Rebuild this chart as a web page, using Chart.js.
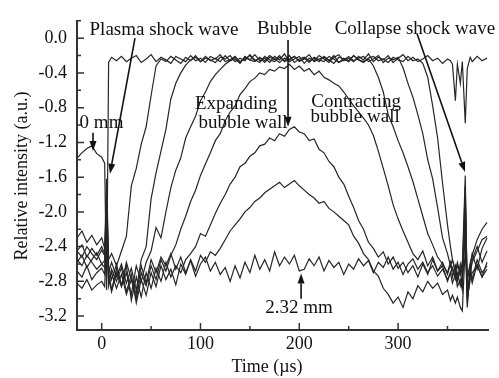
<!DOCTYPE html>
<html>
<head>
<meta charset="utf-8">
<script src="https://cdn.jsdelivr.net/npm/chart.js@4.4.1/dist/chart.umd.min.js"></script>
<style>
  html, body { margin: 0; padding: 0; background: #fff; }
  #wrap { width: 499px; height: 378px; }
</style>
</head>
<body>
<div id="wrap"><canvas id="chart" width="499" height="378"></canvas></div>
<script>
// time axis shared by every trace (µs)
const timeUs = [-25, -20, -15, -10, -5, 0, 3, 5, 7, 10,
  15, 20, 25, 30, 35, 40, 45, 50, 55, 60,
  65, 70, 75, 80, 85, 90, 95, 100, 105, 110,
  115, 120, 125, 130, 135, 140, 145, 150, 155, 160,
  165, 170, 175, 180, 185, 190, 195, 200, 205, 210,
  215, 220, 225, 230, 235, 240, 245, 250, 255, 260,
  265, 270, 275, 280, 285, 290, 295, 300, 305, 310,
  315, 320, 325, 330, 335, 340, 345, 350, 353, 355,
  358, 360, 363, 365, 368, 370, 373, 375, 380, 385,
  390];

const trace0mm = [-1.38, -1.32, -1.27, -1.24, -1.33, -1.37, -1.44, -2.90, -0.28, -0.22,
  -0.26, -0.21, -0.27, -0.23, -0.20, -0.28, -0.24, -0.19, -0.27, -0.22,
  -0.25, -0.29, -0.21, -0.24, -0.27, -0.20, -0.26, -0.23, -0.28, -0.21,
  -0.24, -0.19, -0.27, -0.25, -0.21, -0.28, -0.22, -0.25, -0.19, -0.26,
  -0.23, -0.28, -0.21, -0.25, -0.18, -0.27, -0.24, -0.21, -0.29, -0.23,
  -0.26, -0.20, -0.24, -0.28, -0.22, -0.19, -0.26, -0.23, -0.27, -0.21,
  -0.25, -0.18, -0.27, -0.22, -0.25, -0.20, -0.28, -0.23, -0.19, -0.26,
  -0.22, -0.27, -0.24, -0.20, -0.26, -0.23, -0.29, -0.24, -0.26, -0.30,
  -0.72, -0.30, -0.52, -0.27, -0.98, -0.35, -0.22, -0.27, -0.21, -0.26,
  -0.23];

const traceA = [-2.30, -2.22, -2.35, -2.27, -2.38, -2.30, -2.42, -1.62, -2.55, -2.48,
  -2.62, -2.45, -2.28, -1.70, -1.50, -1.22, -1.02, -0.66, -0.32, -0.24,
  -0.27, -0.21, -0.25, -0.29, -0.22, -0.26, -0.20, -0.27, -0.23, -0.25,
  -0.28, -0.22, -0.24, -0.20, -0.27, -0.23, -0.26, -0.19, -0.25, -0.28,
  -0.21, -0.25, -0.27, -0.22, -0.26, -0.20, -0.28, -0.24, -0.22, -0.26,
  -0.23, -0.27, -0.21, -0.25, -0.29, -0.22, -0.24, -0.27, -0.20, -0.25,
  -0.28, -0.23, -0.21, -0.26, -0.24, -0.28, -0.22, -0.25, -0.27, -0.21,
  -0.26, -0.24, -0.29, -0.45, -0.78, -1.15, -1.67, -2.15, -2.40, -2.55,
  -2.68, -2.58, -2.72, -2.62, -1.58, -3.10, -2.60, -2.48, -2.66, -2.42,
  -2.30];

const traceB = [-2.45, -2.52, -2.40, -2.48, -2.55, -2.44, -2.50, -1.75, -2.70, -2.58,
  -2.75, -2.60, -2.82, -2.65, -2.90, -2.55, -2.40, -1.85, -1.55, -1.30,
  -1.05, -0.70, -0.52, -0.40, -0.31, -0.25, -0.22, -0.27, -0.21, -0.26,
  -0.23, -0.27, -0.20, -0.26, -0.24, -0.29, -0.21, -0.25, -0.27, -0.22,
  -0.26, -0.20, -0.24, -0.28, -0.23, -0.25, -0.21, -0.27, -0.24, -0.19,
  -0.27, -0.24, -0.22, -0.26, -0.20, -0.28, -0.25, -0.21, -0.26, -0.23,
  -0.21, -0.27, -0.24, -0.20, -0.28, -0.23, -0.25, -0.22, -0.34, -0.52,
  -0.68, -0.88, -1.10, -1.40, -1.62, -1.95, -2.30, -2.48, -2.62, -2.55,
  -2.70, -2.78, -2.60, -2.74, -1.70, -2.95, -2.72, -2.55, -2.40, -2.58,
  -2.45];

const traceC = [-2.58, -2.50, -2.64, -2.55, -2.47, -2.60, -2.56, -1.90, -2.62, -2.78,
  -2.60, -2.85, -2.70, -2.95, -2.62, -2.80, -2.58, -2.45, -2.18, -2.30,
  -2.00, -1.72, -1.52, -1.38, -1.15, -1.02, -0.90, -0.72, -0.62, -0.50,
  -0.42, -0.36, -0.30, -0.26, -0.22, -0.27, -0.24, -0.20, -0.26, -0.23,
  -0.28, -0.22, -0.25, -0.20, -0.27, -0.24, -0.21, -0.26, -0.23, -0.28,
  -0.22, -0.25, -0.27, -0.21, -0.24, -0.28, -0.23, -0.26, -0.20, -0.25,
  -0.27, -0.24, -0.32, -0.45, -0.62, -0.88, -1.02, -1.18, -1.32, -1.48,
  -1.65, -1.85, -2.05, -2.25, -2.38, -2.52, -2.60, -2.70, -2.58, -2.75,
  -2.62, -2.80, -2.68, -2.85, -1.82, -2.80, -2.62, -2.78, -2.55, -2.70,
  -2.62];

const traceD = [-2.68, -2.75, -2.62, -2.78, -2.70, -2.65, -2.72, -2.05, -2.80, -2.70,
  -2.88, -2.72, -2.95, -2.78, -3.00, -2.70, -2.85, -2.62, -2.78, -2.55,
  -2.68, -2.50, -2.38, -2.20, -2.05, -1.88, -1.75, -1.58, -1.45, -1.32,
  -1.18, -1.10, -0.95, -0.85, -0.78, -0.65, -0.58, -0.50, -0.46, -0.40,
  -0.42, -0.36, -0.38, -0.33, -0.35, -0.30, -0.36, -0.32, -0.38, -0.35,
  -0.42, -0.38, -0.45, -0.48, -0.52, -0.55, -0.62, -0.70, -0.78, -0.85,
  -0.92, -1.00, -1.12, -1.30, -1.50, -1.70, -1.92, -2.08, -2.22, -2.35,
  -2.48, -2.55, -2.45, -2.62, -2.52, -2.68, -2.58, -2.72, -2.60, -2.66,
  -2.78, -2.70, -2.85, -2.75, -2.20, -2.92, -2.70, -2.82, -2.60, -2.75,
  -2.58];

const traceE = [-2.82, -2.88, -2.78, -2.90, -2.84, -2.80, -2.86, -2.30, -2.75, -2.92,
  -2.70, -2.86, -2.62, -3.02, -2.75, -2.98, -2.70, -2.88, -2.65, -2.80,
  -2.58, -2.75, -2.62, -2.70, -2.55, -2.48, -2.40, -2.25, -2.28, -2.15,
  -2.02, -1.90, -1.80, -1.68, -1.60, -1.48, -1.44, -1.36, -1.32, -1.24,
  -1.22, -1.15, -1.18, -1.10, -1.13, -1.05, -1.02, -1.08, -1.10, -1.18,
  -1.16, -1.28, -1.32, -1.42, -1.48, -1.60, -1.68, -1.82, -1.95, -2.10,
  -2.20, -2.35, -2.42, -2.52, -2.46, -2.60, -2.52, -2.65, -2.58, -2.70,
  -2.62, -2.75, -2.60, -2.72, -2.55, -2.68, -2.62, -2.80, -2.70, -2.64,
  -2.74, -2.62, -2.70, -2.58, -2.35, -2.75, -2.60, -2.50, -2.32, -2.20,
  -2.12];

const traceF = [-2.55, -2.62, -2.50, -2.58, -2.66, -2.60, -2.64, -2.20, -2.85, -2.66,
  -2.80, -2.64, -2.92, -2.72, -3.05, -2.78, -2.96, -2.70, -2.86, -2.62,
  -2.78, -2.66, -2.84, -2.60, -2.72, -2.55, -2.68, -2.50, -2.58, -2.46,
  -2.50, -2.42, -2.32, -2.22, -2.15, -2.08, -2.00, -1.95, -1.88, -1.84,
  -1.78, -1.74, -1.70, -1.66, -1.72, -1.68, -1.64, -1.70, -1.75, -1.80,
  -1.84, -1.90, -1.88, -1.96, -2.00, -2.05, -2.10, -2.15, -2.28, -2.36,
  -2.48, -2.55, -2.68, -2.74, -2.88, -2.95, -3.05, -2.98, -3.10, -2.92,
  -3.00, -2.85, -2.92, -2.80, -2.88, -2.82, -2.95, -2.90, -3.02, -2.96,
  -3.05, -2.98, -3.10, -3.14, -2.40, -3.00, -2.78, -2.70, -2.62, -2.75,
  -2.66];

const trace232mm = [-2.45, -2.38, -2.52, -2.42, -2.50, -2.40, -2.48, -2.15, -2.68, -2.90,
  -2.65, -2.85, -2.58, -2.78, -2.95, -2.62, -2.82, -2.55, -2.70, -2.52,
  -2.62, -2.48, -2.66, -2.52, -2.70, -2.56, -2.74, -2.60, -2.52, -2.68,
  -2.58, -2.72, -2.64, -2.80, -2.62, -2.76, -2.58, -2.70, -2.50, -2.66,
  -2.55, -2.68, -2.46, -2.62, -2.52, -2.60, -2.50, -2.68, -2.66, -2.54,
  -2.62, -2.52, -2.68, -2.56, -2.64, -2.58, -2.72, -2.60, -2.66, -2.54,
  -2.62, -2.56, -2.70, -2.58, -2.64, -2.52, -2.66, -2.58, -2.72, -2.60,
  -2.54, -2.66, -2.58, -2.70, -2.62, -2.74, -2.66, -2.78, -2.70, -2.82,
  -2.72, -2.86, -2.78, -2.90, -1.95, -3.05, -2.70, -2.58, -2.45, -2.32,
  -2.28];

const yTicks = [-3.2, -2.8, -2.4, -2.0, -1.6, -1.2, -0.8, -0.4, 0.0];
const yMinorTicks = [-3.0, -2.6, -2.2, -1.8, -1.4, -1.0, -0.6, -0.2, 0.2];
const xTicks = [0, 100, 200, 300];
const xMinorTicks = [50, 150, 250, 350];

// labels placed in data coordinates (baseline)
const notes = [
  { text: "Plasma shock wave", x: 63, y: 0.04 },
  { text: "Bubble", x: 185, y: 0.05 },
  { text: "Collapse shock wave", x: 317, y: 0.05 },
  { text: "0 mm", x: -0.2, y: -1.03 },
  { text: "Expanding", x: 136, y: -0.82 },
  { text: "bubble wall", x: 143, y: -1.04 },
  { text: "Contracting", x: 257.6, y: -0.79 },
  { text: "bubble wall", x: 256.5, y: -0.97 },
  { text: "2.32 mm", x: 199.8, y: -3.17 }
];
const arrows = [
  { from: [33.7, 0.0], to: [8.4, -1.56] },
  { from: [188.6, -0.02], to: [188.6, -1.02] },
  { from: [319.2, 0.05], to: [367.8, -1.54] },
  { from: [-8.8, -1.09], to: [-8.8, -1.30] },
  { from: [201.8, -3.0], to: [201.8, -2.71] }
];

const INK = "#111";
const FONT = "Liberation Serif, Times New Roman, serif";

function toPoints(values) {
  return timeUs.map((t, i) => ({ x: t, y: values[i] }));
}

const traces = [trace232mm, traceF, traceE, traceD, traceC, traceB, traceA, trace0mm];

const inwardTicks = {
  id: "inwardTicks",
  afterDraw(chart) {
    const ctx = chart.ctx;
    const xs = chart.scales.x;
    const ys = chart.scales.y;
    const left = chart.chartArea.left;
    const bottom = chart.chartArea.bottom;
    ctx.save();
    ctx.strokeStyle = "#333";
    ctx.lineWidth = 1.5;
    ctx.beginPath();
    yTicks.forEach((v) => {
      const p = ys.getPixelForValue(v);
      ctx.moveTo(left, p);
      ctx.lineTo(left + 7, p);
    });
    yMinorTicks.forEach((v) => {
      const p = ys.getPixelForValue(v);
      ctx.moveTo(left, p);
      ctx.lineTo(left + 4, p);
    });
    xTicks.forEach((v) => {
      const p = xs.getPixelForValue(v);
      ctx.moveTo(p, bottom);
      ctx.lineTo(p, bottom - 7);
    });
    xMinorTicks.forEach((v) => {
      const p = xs.getPixelForValue(v);
      ctx.moveTo(p, bottom);
      ctx.lineTo(p, bottom - 4);
    });
    ctx.stroke();
    ctx.restore();
  }
};

function drawArrow(ctx, x1, y1, x2, y2) {
  const ang = Math.atan2(y2 - y1, x2 - x1);
  const head = 10;
  const half = 3.5;
  const bx = x2 - head * Math.cos(ang);
  const by = y2 - head * Math.sin(ang);
  ctx.beginPath();
  ctx.moveTo(x1, y1);
  ctx.lineTo(bx, by);
  ctx.stroke();
  ctx.beginPath();
  ctx.moveTo(x2, y2);
  ctx.lineTo(bx + half * Math.sin(ang), by - half * Math.cos(ang));
  ctx.lineTo(bx - half * Math.sin(ang), by + half * Math.cos(ang));
  ctx.closePath();
  ctx.fill();
}

const annotations = {
  id: "annotations",
  afterDatasetsDraw(chart) {
    const ctx = chart.ctx;
    const xs = chart.scales.x;
    const ys = chart.scales.y;
    ctx.save();
    ctx.fillStyle = INK;
    ctx.strokeStyle = INK;
    ctx.lineWidth = 1.6;
    ctx.font = "19px " + FONT;
    ctx.textAlign = "center";
    ctx.textBaseline = "alphabetic";
    notes.forEach((n) => {
      ctx.fillText(n.text, xs.getPixelForValue(n.x), ys.getPixelForValue(n.y));
    });
    arrows.forEach((a) => {
      drawArrow(ctx,
        xs.getPixelForValue(a.from[0]), ys.getPixelForValue(a.from[1]),
        xs.getPixelForValue(a.to[0]), ys.getPixelForValue(a.to[1]));
    });
    // axis titles
    ctx.font = "18px " + FONT;
    ctx.textBaseline = "middle";
    ctx.fillText("Time (\u00b5s)", 267, 367);
    ctx.translate(22, 176);
    ctx.rotate(-Math.PI / 2);
    ctx.fillText("Relative intensity (a.u.)", 0, 0);
    ctx.restore();
  }
};

new Chart(document.getElementById("chart"), {
  type: "line",
  data: {
    datasets: traces.map((values) => ({
      data: toPoints(values),
      borderColor: "#262626",
      borderWidth: 1.2,
      pointRadius: 0,
      tension: 0,
      fill: false
    }))
  },
  options: {
    responsive: false,
    animation: false,
    devicePixelRatio: 1,
    layout: { padding: { top: 13, right: 11, left: 0, bottom: 0 } },
    plugins: {
      legend: { display: false },
      tooltip: { enabled: false }
    },
    scales: {
      x: {
        type: "linear",
        min: -25,
        max: 391,
        afterFit: (scale) => { scale.height = 48; },
        afterBuildTicks: (scale) => { scale.ticks = xTicks.map((v) => ({ value: v })); },
        grid: { display: false, drawTicks: false },
        border: { display: true, color: "#333", width: 2 },
        ticks: {
          padding: 3,
          color: INK,
          maxRotation: 0,
          font: { family: FONT, size: 18 },
          callback: (v) => String(v)
        }
      },
      y: {
        min: -3.36,
        max: 0.2,
        afterFit: (scale) => { scale.width = 77; },
        afterBuildTicks: (scale) => { scale.ticks = yTicks.map((v) => ({ value: v })); },
        grid: { display: false, drawTicks: false },
        border: { display: true, color: "#333", width: 2 },
        ticks: {
          padding: 10,
          color: INK,
          font: { family: FONT, size: 18 },
          callback: (v) => Number(v).toFixed(1)
        }
      }
    }
  },
  plugins: [inwardTicks, annotations]
});
</script>
</body>
</html>
